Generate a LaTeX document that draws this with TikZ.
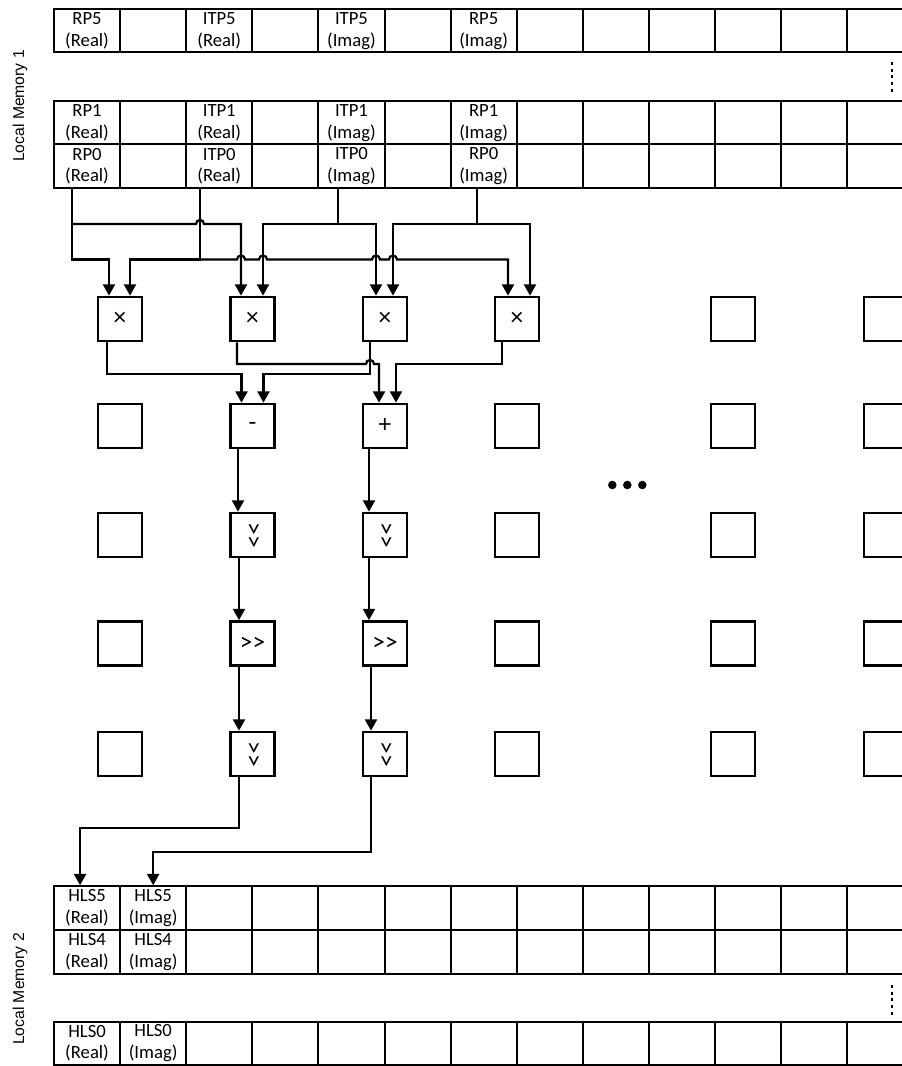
\documentclass[tikz,border=0pt]{standalone}
\usepackage{fontspec}
\setmainfont{Carlito}
\newfontfamily\lblfont{Liberation Sans}
\usetikzlibrary{calc,arrows.meta}
\begin{document}
\begin{tikzpicture}[x=0.75pt,y=-0.75pt,
 cell/.style={draw,line width=1.5pt,minimum width=49.575pt,minimum height=32.625pt,inner sep=0pt,align=center,font=\fontsize{14}{16.4}\selectfont},
 opbox/.style={draw,line width=2pt,minimum width=33pt,minimum height=33pt,inner sep=0pt,font=\fontsize{19}{21}\selectfont},
 conn/.style={line width=1.7pt,-{Triangle[length=8.5pt,width=9pt]}},
 memlabel/.style={rotate=90,font=\lblfont\fontsize{11.8}{13}\selectfont},
 vdots/.style={line width=2.2pt,dash pattern=on 2.2pt off 2.8pt},
 bigdot/.style={fill,circle,inner sep=0pt,minimum size=6.4pt}
]
\fill[white] (0,0) rectangle (902,1066);
\clip (0,0) rectangle (902,1066);

% ---------- Local memory 1 ----------
\foreach \k/\t in {0/{RP5\\(Real)},1/{},2/{ITP5\\(Real)},3/{},4/{ITP5\\(Imag)},5/{},6/{RP5\\(Imag)},7/{},8/{},9/{},10/{},11/{},12/{}}
  \node[cell] (A\k) at ({87.05+66.1*\k},30.75) {\t};
\foreach \k/\t in {0/{RP1\\(Real)},1/{},2/{ITP1\\(Real)},3/{},4/{ITP1\\(Imag)},5/{},6/{RP1\\(Imag)},7/{},8/{},9/{},10/{},11/{},12/{}}
  \node[cell] (B\k) at ({87.05+66.1*\k},122.75) {\t};
\foreach \k/\t in {0/{RP0\\(Real)},1/{},2/{ITP0\\(Real)},3/{},4/{ITP0\\(Imag)},5/{},6/{RP0\\(Imag)},7/{},8/{},9/{},10/{},11/{},12/{}}
  \node[cell] (C\k) at ({87.05+66.1*\k},166.25) {\t};
\draw[vdots] (892,62) -- (892,92);
\node[memlabel] (lm1) at (20,106) {Local Memory 1};

% ---------- Local memory 2 ----------
\foreach \k/\t in {0/{HLS5\\(Real)},1/{HLS5\\(Imag)},2/{},3/{},4/{},5/{},6/{},7/{},8/{},9/{},10/{},11/{},12/{}}
  \node[cell] (D\k) at ({87.05+66.1*\k},908) {\t};
\foreach \k/\t in {0/{HLS4\\(Real)},1/{HLS4\\(Imag)},2/{},3/{},4/{},5/{},6/{},7/{},8/{},9/{},10/{},11/{},12/{}}
  \node[cell] (E\k) at ({87.05+66.1*\k},952) {\t};
\foreach \k/\t in {0/{HLS0\\(Real)},1/{HLS0\\(Imag)},2/{},3/{},4/{},5/{},6/{},7/{},8/{},9/{},10/{},11/{},12/{}}
  \node[cell] (F\k) at ({87.05+66.1*\k},1043.25) {\t};
\draw[vdots] (892,985) -- (892,1015);
\node[memlabel] (lm2) at (20,989) {Local Memory 2};

% ---------- processing elements ----------
\node[opbox] (m1) at (120,319) {×};
\node[opbox] (m2) at (252.5,319) {×};
\node[opbox] (m3) at (385,319) {×};
\node[opbox] (m4) at (517,319) {×};
\node[opbox] (e15) at (733,319) {};
\node[opbox] (e16) at (886,319) {};

\node[opbox] (e21) at (120,426) {};
\node[opbox] (s1) at (252.5,426) {-};
\node[opbox] (s2) at (385,426) {+};
\node[opbox] (e24) at (517,426) {};
\node[opbox] (e25) at (733,426) {};
\node[opbox] (e26) at (886,426) {};

\node[opbox] (e31) at (120,535) {};
\node[opbox] (v1) at (252.5,535) {\rotatebox{-90}{>{}>}};
\node[opbox] (v2) at (385,535) {\rotatebox{-90}{>{}>}};
\node[opbox] (e34) at (517,535) {};
\node[opbox] (e35) at (733,535) {};
\node[opbox] (e36) at (886,535) {};

\node[opbox] (e41) at (120,643.5) {};
\node[opbox] (r1) at (252.5,643.5) {>{}>};
\node[opbox] (r2) at (385,643.5) {>{}>};
\node[opbox] (e44) at (517,643.5) {};
\node[opbox] (e45) at (733,643.5) {};
\node[opbox] (e46) at (886,643.5) {};

\node[opbox] (e51) at (120,754) {};
\node[opbox] (w1) at (252.5,754) {\rotatebox{-90}{>{}>}};
\node[opbox] (w2) at (385,754) {\rotatebox{-90}{>{}>}};
\node[opbox] (e54) at (517,754) {};
\node[opbox] (e55) at (733,754) {};
\node[opbox] (e56) at (886,754) {};

\node[bigdot] (d1) at (612.3,485) {};
\node[bigdot] (d2) at (627.3,485) {};
\node[bigdot] (d3) at (642.3,485) {};

% ---------- helper coordinates ----------
\coordinate (tRr) at ($(C0.south)+(-15,0)$);
\coordinate (tIr) at ($(C2.south)+(-19.25,0)$);
\coordinate (tIi) at ($(C4.south)+(-13.45,0)$);
\coordinate (tRi) at ($(C6.south)+(-6.65,0)$);
\coordinate (busU) at (0,224);
\coordinate (busL) at (0,259.5);
\coordinate (m1a) at ($(m1.north)+(-11,0)$);
\coordinate (m1b) at ($(m1.north)+(10,0)$);
\coordinate (m2a) at ($(m2.north)+(-11.5,0)$);
\coordinate (m2b) at ($(m2.north)+(10.5,0)$);
\coordinate (m3a) at ($(m3.north)+(-9,0)$);
\coordinate (m3b) at ($(m3.north)+(8,0)$);
\coordinate (m4a) at ($(m4.north)+(-9,0)$);
\coordinate (m4b) at ($(m4.north)+(13,0)$);

% ---------- memory 1 to multipliers ----------
\draw[conn] (tRr) -- (tRr |- busL) -| (m1a);
\draw[conn] (tRr |- busU) -- ($(tIr |- busU)+(-4,0)$) arc[start angle=180,end angle=0,radius=3pt] -| (m2a);
\draw[conn] (tIr) -- (tIr |- busL) -| (m1b);
\draw[conn] (tIr |- busL) -- ($(m2a |- busL)+(-4,0)$) arc[start angle=180,end angle=0,radius=3pt]
   -- ($(m2b |- busL)+(-4,0)$) arc[start angle=180,end angle=0,radius=3pt]
   -- ($(m3a |- busL)+(-4,0)$) arc[start angle=180,end angle=0,radius=3pt]
   -- ($(m3b |- busL)+(-4,0)$) arc[start angle=180,end angle=0,radius=3pt] -| (m4a);
\draw[conn] (tIi) -- (tIi |- busU) -| (m2b);
\draw[conn] (tIi |- busU) -| (m3a);
\draw[conn] (tRi) -- (tRi |- busU) -| (m3b);
\draw[conn] (tRi |- busU) -| (m4b);

% ---------- multipliers to add/sub ----------
\coordinate (lev1) at (0,364);
\coordinate (lev2) at (0,374);
\coordinate (m1o) at ($(m1.south)+(-13,0)$);
\coordinate (m2o) at ($(m2.south)+(-15.5,0)$);
\coordinate (m3o) at ($(m3.south)+(-15,0)$);
\coordinate (m4o) at ($(m4.south)+(-15,0)$);
\coordinate (s1a) at ($(s1.north)+(-11,0)$);
\coordinate (s1b) at ($(s1.north)+(11,0)$);
\coordinate (s2a) at ($(s2.north)+(-6,0)$);
\coordinate (s2b) at ($(s2.north)+(11,0)$);
\draw[conn] (m1o) -- (m1o |- lev2) -| (s1a);
\draw[conn] (m2o) -- (m2o |- lev1) -- ($(m3o |- lev1)+(-4,0)$) arc[start angle=180,end angle=0,radius=3pt] -| (s2a);
\draw[conn] (m3o) -- (m3o |- lev2) -| (s1b);
\draw[conn] (m4o) -- (m4o |- lev1) -| (s2b);

% ---------- chains ----------
\draw[conn] ($(s1.south)+(-14.5,0)$) -- ($(v1.north)+(-14.5,0)$);
\draw[conn] ($(v1.south)+(-13.5,0)$) -- ($(r1.north)+(-13.5,0)$);
\draw[conn] ($(r1.south)+(-13.5,0)$) -- ($(w1.north)+(-13.5,0)$);
\draw[conn] ($(s2.south)+(-16,0)$) -- ($(v2.north)+(-16,0)$);
\draw[conn] ($(v2.south)+(-16,0)$) -- ($(r2.north)+(-16,0)$);
\draw[conn] ($(r2.south)+(-14,0)$) -- ($(w2.north)+(-14,0)$);

% ---------- to memory 2 ----------
\coordinate (lev3) at (0,828);
\coordinate (lev4) at (0,852);
\coordinate (w1o) at ($(w1.south)+(-13.5,0)$);
\coordinate (w2o) at ($(w2.south)+(-14,0)$);
\coordinate (h5r) at ($(D0.north)+(-7,0)$);
\coordinate (h5i) at ($(D1.north)+(0,0)$);
\draw[conn] (w1o) -- (w1o |- lev3) -| (h5r);
\draw[conn] (w2o) -- (w2o |- lev4) -| (h5i);
\end{tikzpicture}
\end{document}
